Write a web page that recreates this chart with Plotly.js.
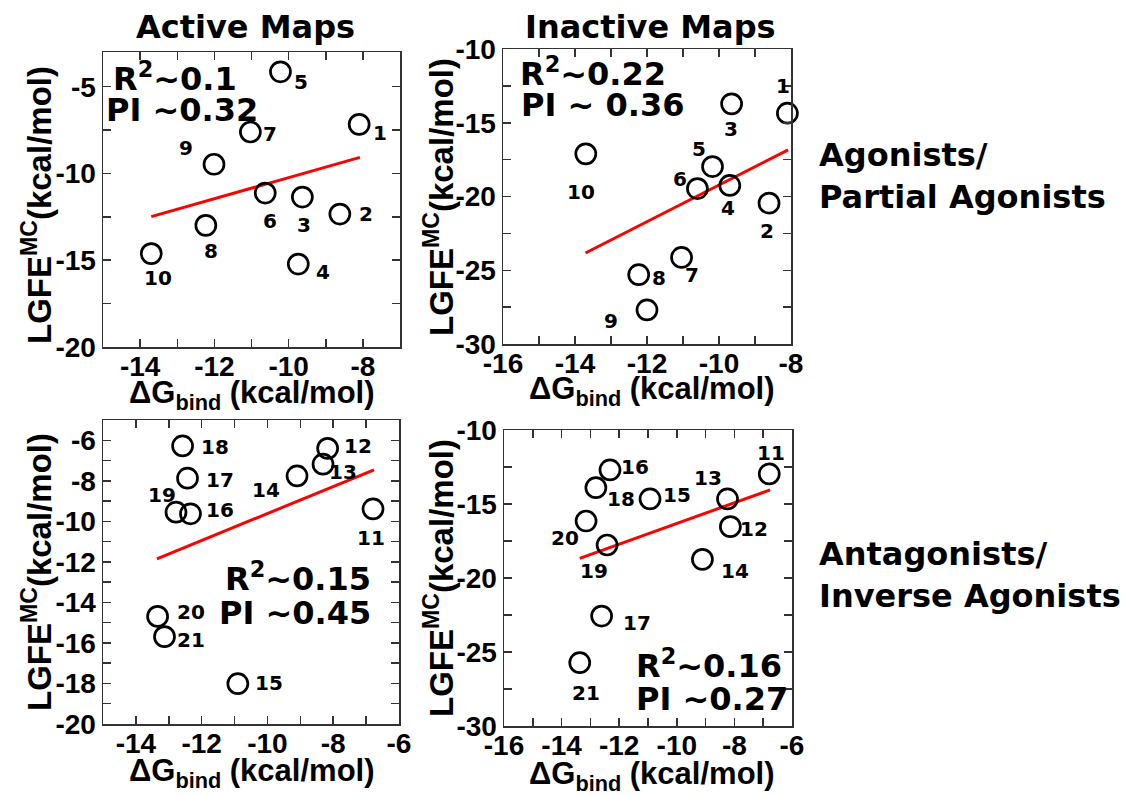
<!DOCTYPE html>
<html><head><meta charset="utf-8">
<script src="https://cdn.plot.ly/plotly-3.0.1.min.js"></script>
<style>html,body{margin:0;padding:0;background:#fff}#chart{width:1129px;height:795px}</style>
</head><body><div id="chart"></div>
<script>
// ---------- data ----------
const ids1 = ['1','2','3','4','5','6','7','8','9','10'];
const actAgoX = [-8.10, -8.62, -9.63, -9.74, -10.22, -10.63, -11.03, -12.23, -12.01, -13.70];
const actAgoY = [-7.17, -12.34, -11.36, -15.22, -4.14, -11.13, -7.61, -12.99, -9.47, -14.62];
const actAgoFitX = [-13.70, -8.08];
const actAgoFitY = [-12.49, -9.07];

const inaAgoX = [-8.10, -8.61, -9.65, -9.70, -10.18, -10.60, -11.04, -12.23, -12.00, -13.70];
const inaAgoY = [-14.35, -20.45, -13.72, -19.25, -17.97, -19.46, -24.13, -25.30, -27.69, -17.11];
const inaAgoFitX = [-13.71, -8.08];
const inaAgoFitY = [-23.83, -16.84];

const ids2 = ['11','12','13','14','15','16','17','18','19','20','21'];
const actAntX = [-6.79, -8.17, -8.31, -9.10, -10.90, -12.34, -12.43, -12.58, -12.78, -13.34, -13.13];
const actAntY = [-9.39, -6.40, -7.18, -7.76, -18.01, -9.63, -7.87, -6.28, -9.55, -14.69, -15.69];
const actAntFitX = [-13.36, -6.76];
const actAntFitY = [-11.85, -7.46];

const inaAntX = [-6.79, -8.14, -8.24, -9.11, -10.93, -12.32, -12.61, -12.81, -12.42, -13.15, -13.37];
const inaAntY = [-12.97, -16.53, -14.66, -18.74, -14.66, -12.70, -22.57, -13.90, -17.77, -16.15, -25.72];
const inaAntFitX = [-13.37, -6.76];
const inaAntFitY = [-18.67, -14.05];

const stats = [
  ['R<sup>2</sup>~0.1', 'PI ~0.32'],
  ['R<sup>2</sup>~0.22', 'PI ~ 0.36'],
  ['R<sup>2</sup>~0.15', 'PI ~0.45'],
  ['R<sup>2</sup>~0.16', 'PI ~0.27']
];
const colTitles = ['Active Maps', 'Inactive Maps'];
const rowTitles = ['Agonists/<br>Partial Agonists', 'Antagonists/<br>Inverse Agonists'];
const yTitle = 'LGFE<sup>MC</sup>(kcal/mol)';
const xTitle = '\u0394G<sub>bind</sub> (kcal/mol)';

// label offsets in screen pixels (dx, dy down)
const off1 = [[21,9],[26,0],[2,28],[25,8],[21,10],[5,28],[20,2],[5,26],[-28,-16],[7,24]];
const off2 = [[-4,-27],[-2,28],[-1,25],[-2,23],[-14,-18],[-17,-10],[10,18],[20,3],[-36,11],[-5,38]];
const off3 = [[-2,29],[30,-2],[20,8],[-31,14],[31,-1],[30,-4],[32,2],[32,1],[-14,-17],[33,-4],[26,3]];
const off4 = [[2,-21],[24,2],[-19,-21],[33,12],[27,-4],[25,-3],[35,7],[25,11],[-13,26],[-21,17],[6,30]];

// ---------- layout helpers ----------
const W = 1129, H = 795;
const fx = p => p / W, fy = p => 1 - p / H;
const DJ = 'DejaVu Sans', LS = 'Liberation Sans';
const axCol = '#333';

function range(a, b, s) { const r = []; for (let v = a; v <= b + 1e-9; v += s) r.push(v); return r; }
function axis(dom, rng, minor, anchor, tickvals, standoff) {
  return {
    domain: dom, range: rng, anchor: anchor,
    tickmode: 'array', tickvals: tickvals, ticktext: tickvals.map(v => String(v)),
    ticks: 'inside', ticklen: 8, tickwidth: 1.5, tickcolor: axCol,
    minor: {tickmode: 'linear', tick0: 0, dtick: minor, ticks: 'inside', ticklen: 8, tickwidth: 1.5, tickcolor: axCol, showgrid: false},
    showline: true, linecolor: axCol, linewidth: 1.5, mirror: 'ticks',
    showgrid: false, zeroline: false, fixedrange: true, ticklabelstandoff: standoff || 0,
    tickfont: {family: LS, size: 28, weight: 'bold', color: '#000'}
  };
}

const panels = [
  {x: actAgoX, y: actAgoY, fx: actAgoFitX, fy: actAgoFitY, ids: ids1, off: off1, xa: 'x', ya: 'y'},
  {x: inaAgoX, y: inaAgoY, fx: inaAgoFitX, fy: inaAgoFitY, ids: ids1, off: off2, xa: 'x2', ya: 'y2'},
  {x: actAntX, y: actAntY, fx: actAntFitX, fy: actAntFitY, ids: ids2, off: off3, xa: 'x3', ya: 'y3'},
  {x: inaAntX, y: inaAntY, fx: inaAntFitX, fy: inaAntFitY, ids: ids2, off: off4, xa: 'x4', ya: 'y4'}
];

const traces = [];
const annotations = [];
panels.forEach(p => {
  traces.push({x: p.fx, y: p.fy, xaxis: p.xa, yaxis: p.ya, mode: 'lines', line: {color: '#ff0000', width: 3}, hoverinfo: 'skip'});
  traces.push({x: p.x, y: p.y, xaxis: p.xa, yaxis: p.ya, mode: 'markers', cliponaxis: false,
    marker: {symbol: 'circle-open', size: 20, color: '#000', line: {width: 2.7, color: '#000'}}});
  p.ids.forEach((t, i) => annotations.push({
    x: p.x[i], y: p.y[i], xref: p.xa, yref: p.ya, text: t, showarrow: false,
    xanchor: 'center', yanchor: 'middle', xshift: p.off[i][0], yshift: -p.off[i][1],
    font: {family: DJ, size: 20, weight: 'bold', color: '#000'}
  }));
});

function paperText(text, x, y, size, family, xanchor, extra) {
  return Object.assign({text: text, x: fx(x), y: fy(y), xref: 'paper', yref: 'paper', showarrow: false,
    xanchor: xanchor || 'left', yanchor: 'middle', align: 'left',
    font: {family: family, size: size, weight: 'bold', color: '#000'}}, extra || {});
}
// stats
annotations.push(paperText(stats[0][0], 111, 77, 32, DJ));
annotations.push(paperText(stats[0][1], 104, 110, 32, DJ));
annotations.push(paperText(stats[1][0], 518, 72, 32, DJ));
annotations.push(paperText(stats[1][1], 519, 105, 32, DJ));
annotations.push(paperText(stats[2][0], 373, 577, 32, DJ, 'right'));
annotations.push(paperText(stats[2][1], 373, 613, 32, DJ, 'right'));
annotations.push(paperText(stats[3][0], 634, 664, 32, DJ));
annotations.push(paperText(stats[3][1], 634, 699, 32, DJ));
// column and row titles
annotations.push(paperText(colTitles[0], 245, 27, 32, DJ, 'center'));
annotations.push(paperText(colTitles[1], 650, 27, 32, DJ, 'center'));
annotations.push(paperText(rowTitles[0], 817, 176, 32, DJ));
annotations.push(paperText(rowTitles[1], 817, 575, 32, DJ));
// axis titles
[[37, 205], [439, 197], [37, 572], [439, 578]].forEach(c =>
  annotations.push(paperText(yTitle, c[0], c[1], 33, LS, 'center', {textangle: -90})));
[[252, 395], [652, 391], [252, 773], [652, 776]].forEach(c =>
  annotations.push(paperText(xTitle, c[0], c[1], 31, LS, 'center')));

const layout = {
  width: W, height: H, margin: {l: 0, r: 0, t: 0, b: 0, pad: 0},
  paper_bgcolor: '#fff', plot_bgcolor: '#fff', showlegend: false,
  xaxis:  axis([fx(103), fx(400)], [-15, -7], 1, 'y', range(-14, -8, 2), -6),
  yaxis:  axis([fy(347), fy(52)], [-20, -3], 2.5, 'x', range(-20, -5, 5)),
  xaxis2: axis([fx(503), fx(791)], [-16, -8], 1, 'y2', range(-16, -8, 2), -6),
  yaxis2: axis([fy(344), fy(49)], [-30, -10], 2.5, 'x2', range(-30, -10, 5)),
  xaxis3: axis([fx(103), fx(399)], [-15, -6], 1, 'y3', range(-14, -6, 2), -6),
  yaxis3: axis([fy(724), fy(420)], [-20, -5], 1, 'x3', range(-20, -6, 2)),
  xaxis4: axis([fx(504), fx(792)], [-16, -6], 1, 'y4', range(-16, -6, 2), -6),
  yaxis4: axis([fy(726), fy(430)], [-30, -10], 2.5, 'x4', range(-30, -10, 5)),
  annotations: annotations
};
Plotly.newPlot('chart', traces, layout, {staticPlot: true, displayModeBar: false});
</script>
</body></html>
